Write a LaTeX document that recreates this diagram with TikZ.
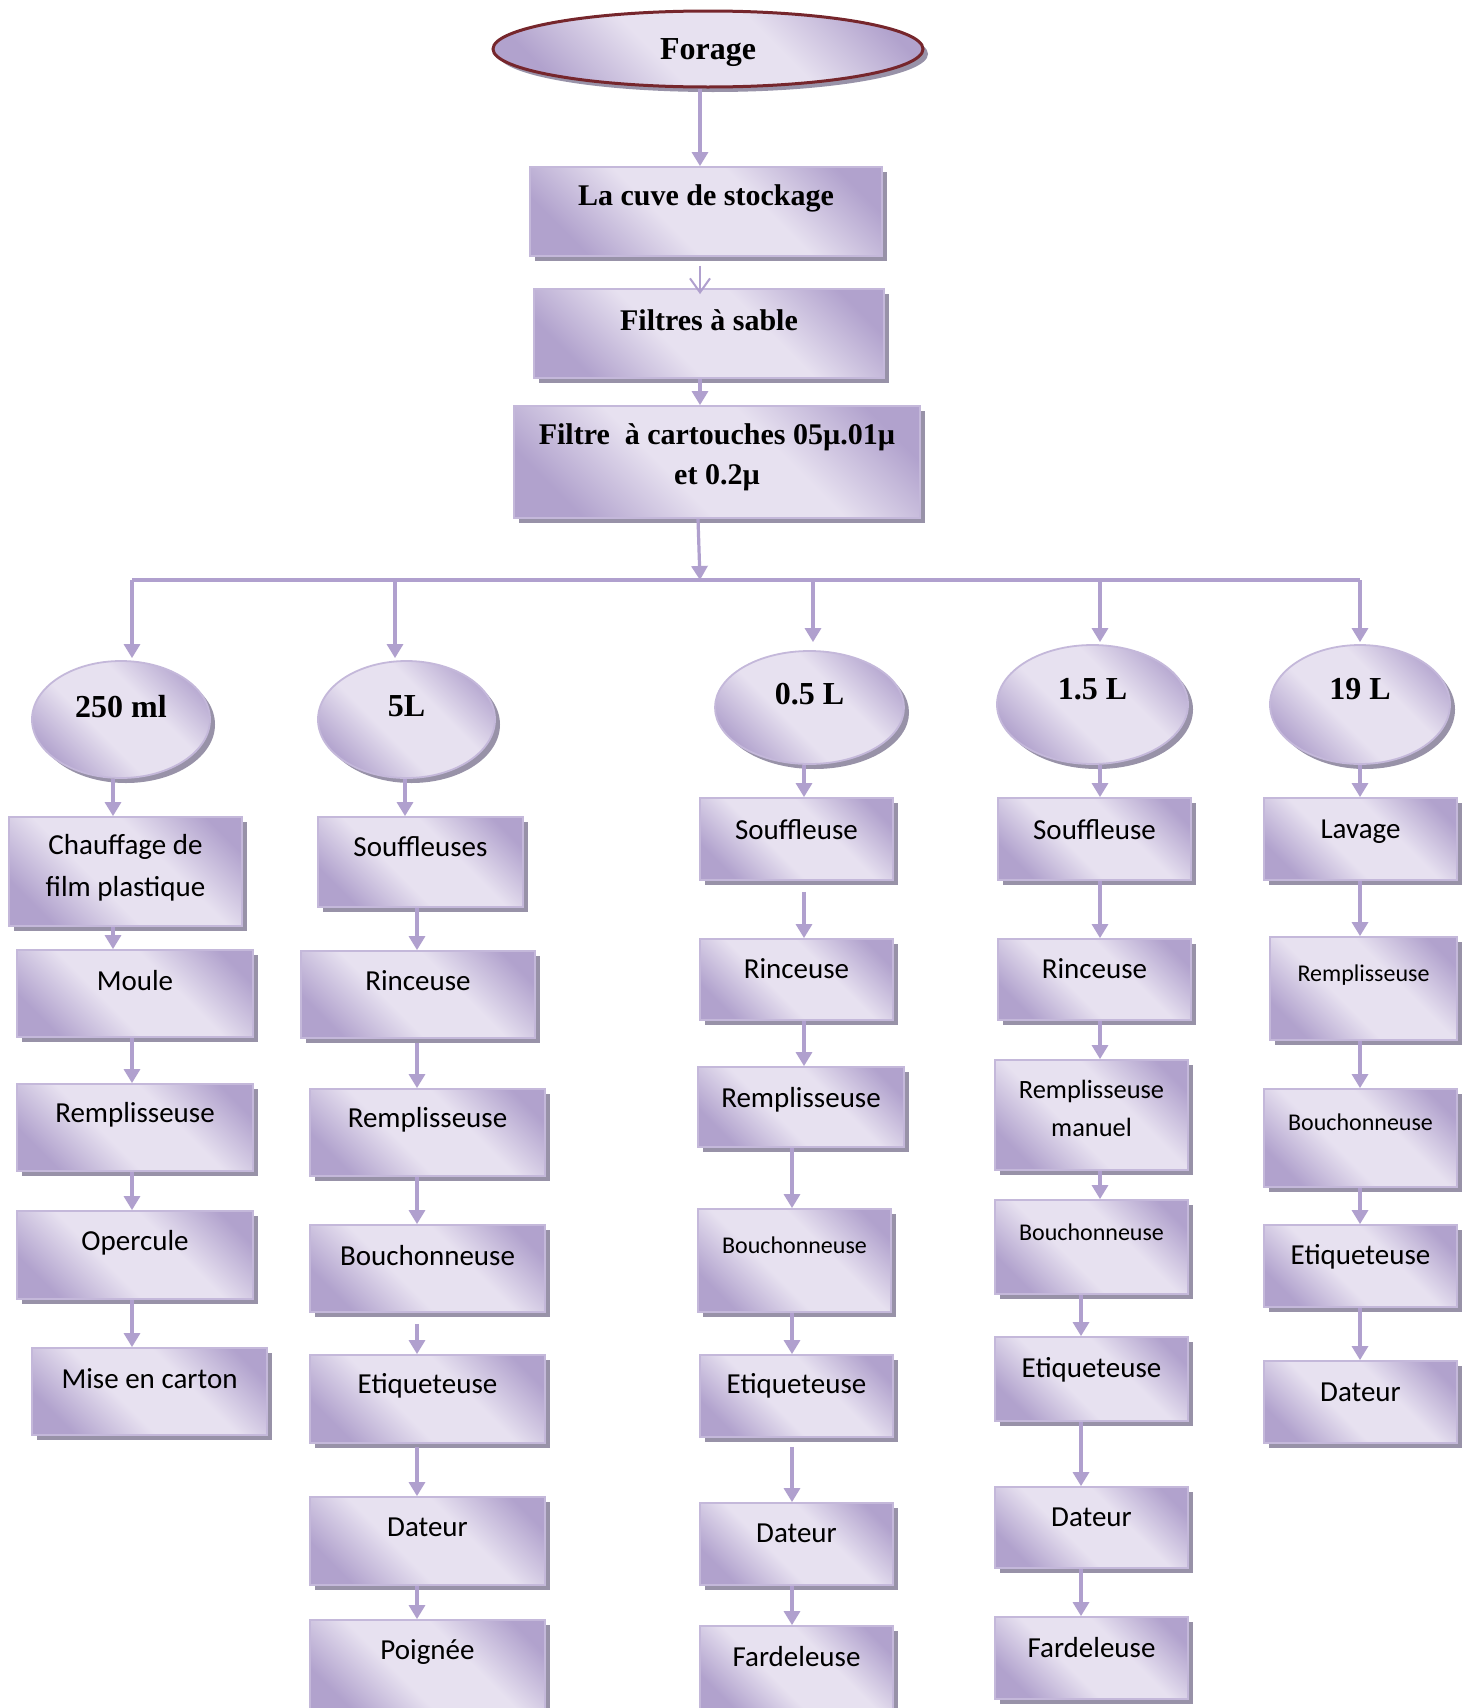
\documentclass[tikz,border=0pt]{standalone}
\usepackage{fontspec}
\setmainfont{Liberation Serif}
\newfontfamily\carlitofont{Carlito}
\usetikzlibrary{shadows,arrows.meta,calc,shapes.geometric}

\definecolor{lavD}{RGB}{177,162,205}
\definecolor{lavL}{RGB}{231,225,240}
\definecolor{lavEdge}{RGB}{196,184,218}
\definecolor{shadowc}{RGB}{152,146,168}
\definecolor{linkc}{RGB}{176,160,206}
\definecolor{forageEdge}{RGB}{118,38,44}

\pgfdeclarehorizontalshading{lavshade}{100bp}{color(0bp)=(lavD); color(24bp)=(lavD); color(42bp)=(lavL); color(60bp)=(lavL); color(78bp)=(lavD); color(100bp)=(lavD)}

\tikzset{
  stepbox/.style={rectangle, draw=lavEdge, line width=0.9pt, shading=lavshade, shading angle=45,
    general shadow={fill=shadowc, shadow xshift=2.5pt, shadow yshift=-2.5pt}, inner sep=0pt},
  oval/.style={ellipse, draw=lavEdge, line width=0.9pt, shading=lavshade, shading angle=45,
    general shadow={fill=shadowc, shadow xshift=2.5pt, shadow yshift=-2.5pt}, inner sep=0pt},
  bodytxt/.style={font=\carlitofont\fontsize{14.5}{21}\selectfont, align=center, inner sep=0pt},
  midtxt/.style={font=\carlitofont\fontsize{13.2}{19}\selectfont, align=center, inner sep=0pt},
  smalltxt/.style={font=\carlitofont\fontsize{12}{15}\selectfont, align=center, inner sep=0pt},
  headtxt/.style={font=\bfseries\fontsize{15}{20}\selectfont, align=center, inner sep=0pt},
  ovaltxt/.style={font=\bfseries\fontsize{16}{19}\selectfont, align=center, inner sep=0pt},
  conn/.style={draw=linkc, line width=1.6pt, -{Triangle[width=8pt,length=7pt]}},
  openconn/.style={draw=linkc, line width=1pt, -{Straight Barb[width=10pt,length=7pt]}},
  busline/.style={draw=linkc, line width=1.6pt},
}

% box: [text style]{name}{x1}{y1}{x2}{y2}{text offset from top}{text}
\newcommand\bx[8][bodytxt]{%
  \node[stepbox, minimum width={(#5-#3)*0.5pt}, minimum height={(#6-#4)*0.5pt}] (#2) at ({(#3+#5)/2},{(#4+#6)/2}) {};
  \node[#1] at ($(#2.north)+(0,#7)$) {#8};}
% oval: {name}{x1}{y1}{x2}{y2}{text offset from top}{text}
\newcommand\ov[7]{%
  \node[oval, minimum width={(#4-#2)*0.5pt}, minimum height={(#5-#3)*0.5pt}] (#1) at ({(#2+#4)/2},{(#3+#5)/2}) {};
  \node[ovaltxt] at ($(#1.north)+(0,#6)$) {#7};}
% vertical arrow at column x: {x}{from}{to}{gap below source}
\newcommand\arr[4]{%
  \path (#1,0) coordinate (colx);
  \draw[conn] ($(#2.south -| colx)+(0,#4)$) -- (#3.north -| colx);}

\begin{document}
\begin{tikzpicture}[x=0.5pt,y=-0.5pt]
\useasboundingbox (0,0) rectangle (1469,1708);
\fill[white] (0,0) rectangle (1469,1708);
\clip (0,0) rectangle (1469,1708);

% source and treatment chain
\node[ellipse, draw=forageEdge, line width=1.5pt, shading=lavshade, shading angle=45,
  general shadow={fill=shadowc, shadow xshift=2.5pt, shadow yshift=-2.5pt},
  minimum width=215pt, minimum height=38pt, inner sep=0pt] (forage) at (708,49) {};
\node[ovaltxt] at ($(forage)+(0,4)$) {Forage};
\bx[headtxt]{cuve}{530}{167}{882}{256}{32}{La cuve de stockage}
\bx[headtxt]{sable}{534}{289}{884}{378}{32}{Filtres à sable}
\bx[headtxt]{cart}{514}{406}{920}{518}{52}{Filtre\ \ à cartouches 05µ.01µ\\et 0.2µ}

\arr{700}{forage}{cuve}{0}
\path (700,0) coordinate (colx);
\draw[openconn] ($(cuve.south -| colx)+(0,9)$) -- ($(sable.north -| colx)+(0,6)$);
\arr{700}{sable}{cart}{0}

% distribution bus
\coordinate (bmid) at (700,580);
\coordinate (b1) at (132,580);
\coordinate (b2) at (395,580);
\coordinate (b3) at (813,580);
\coordinate (b4) at (1100,580);
\coordinate (b5) at (1360,580);
\draw[conn] (cart.south -| 698,0) -- (bmid);
\draw[busline] (b1) -- (b5);

% product formats
\ov{e1}{32}{661}{210}{778}{46}{250 ml}
\ov{e2}{318}{661}{495}{778}{46}{5L}
\ov{e3}{715}{651}{904}{764}{44}{0.5 L}
\ov{e4}{997}{645}{1188}{764}{45}{1.5 L}
\ov{e5}{1270}{645}{1450}{764}{45}{19 L}

\draw[conn] (b1) -- ($(e1.north -| b1)+(0,-2)$);
\draw[conn] (b2) -- ($(e2.north -| b2)+(0,-2)$);
\draw[conn] (b3) -- ($(e3.north -| b3)+(0,-8)$);
\draw[conn] (b4) -- ($(e4.north -| b4)+(0,-2)$);
\draw[conn] (b5) -- ($(e5.north -| b5)+(0,-2)$);

% 250 ml line
\bx{c1a}{9}{817}{242}{926}{52}{Chauffage de\\film plastique}
\bx{c1b}{17}{950}{253}{1037}{31}{Moule}
\bx{c1c}{17}{1084}{253}{1171}{32}{Remplisseuse}
\bx{c1d}{17}{1211}{253}{1299}{33}{Opercule}
\bx{c1e}{32}{1348}{267}{1435}{32}{Mise en carton}
\arr{113}{e1}{c1a}{0}
\arr{113}{c1a}{c1b}{0}
\arr{132}{c1b}{c1c}{0}
\arr{132}{c1c}{c1d}{0}
\arr{132}{c1d}{c1e}{0}

% 5L line
\bx{c2a}{318}{817}{523}{907}{31}{Souffleuses}
\bx{c2b}{301}{951}{535}{1038}{31}{Rinceuse}
\bx{c2c}{310}{1089}{545}{1176}{32}{Remplisseuse}
\bx{c2d}{310}{1225}{545}{1312}{31}{Bouchonneuse}
\bx{c2e}{310}{1355}{545}{1443}{32}{Etiqueteuse}
\bx{c2f}{310}{1497}{545}{1585}{31}{Dateur}
\bx{c2g}{310}{1620}{545}{1712}{33}{Poignée}
\arr{405}{e2}{c2a}{0}
\arr{417}{c2a}{c2b}{0}
\arr{417}{c2b}{c2c}{4}
\arr{417}{c2c}{c2d}{0}
\arr{417}{c2d}{c2e}{11}
\arr{417}{c2e}{c2f}{3}
\arr{417}{c2f}{c2g}{0}

% 0.5 L line
\bx{c3a}{700}{798}{893}{880}{33}{Souffleuse}
\bx{c3b}{700}{939}{893}{1020}{31}{Rinceuse}
\bx{c3c}{698}{1067}{904}{1147}{34}{Remplisseuse}
\bx[smalltxt]{c3d}{698}{1209}{891}{1312}{37}{Bouchonneuse}
\bx{c3e}{700}{1355}{893}{1437}{32}{Etiqueteuse}
\bx{c3f}{700}{1503}{893}{1585}{31}{Dateur}
\bx{c3g}{700}{1626}{893}{1712}{31}{Fardeleuse}
\arr{804}{e3}{c3a}{0}
\arr{804}{c3a}{c3b}{11}
\arr{804}{c3b}{c3c}{0}
\arr{792}{c3c}{c3d}{0}
\arr{792}{c3d}{c3e}{0}
\arr{792}{c3e}{c3f}{9}
\arr{792}{c3f}{c3g}{0}

% 1.5 L line
\bx{c4a}{998}{798}{1191}{880}{33}{Souffleuse}
\bx{c4b}{998}{939}{1191}{1020}{31}{Rinceuse}
\bx[midtxt]{c4c}{995}{1060}{1188}{1170}{49}{Remplisseuse\\manuel}
\bx[smalltxt]{c4d}{995}{1200}{1188}{1294}{33}{Bouchonneuse}
\bx{c4e}{995}{1337}{1188}{1421}{34}{Etiqueteuse}
\bx{c4f}{995}{1487}{1188}{1568}{31}{Dateur}
\bx{c4g}{995}{1617}{1188}{1699}{31}{Fardeleuse}
\arr{1100}{e4}{c4a}{0}
\arr{1100}{c4a}{c4b}{0}
\arr{1100}{c4b}{c4c}{0}
\arr{1100}{c4c}{c4d}{0}
\arr{1081}{c4d}{c4e}{0}
\arr{1081}{c4e}{c4f}{0}
\arr{1081}{c4f}{c4g}{0}

% 19 L line
\bx{c5a}{1264}{798}{1457}{880}{35}{Lavage}
\bx[smalltxt]{c5b}{1270}{937}{1457}{1040}{39}{Remplisseuse}
\bx[smalltxt]{c5c}{1264}{1089}{1457}{1187}{34}{Bouchonneuse}
\bx{c5d}{1264}{1225}{1457}{1307}{33}{Etiqueteuse}
\bx{c5e}{1264}{1361}{1457}{1443}{32}{Dateur}
\arr{1360}{e5}{c5a}{0}
\arr{1360}{c5a}{c5b}{0}
\arr{1360}{c5b}{c5c}{0}
\arr{1360}{c5c}{c5d}{0}
\arr{1360}{c5d}{c5e}{0}
\end{tikzpicture}
\end{document}
